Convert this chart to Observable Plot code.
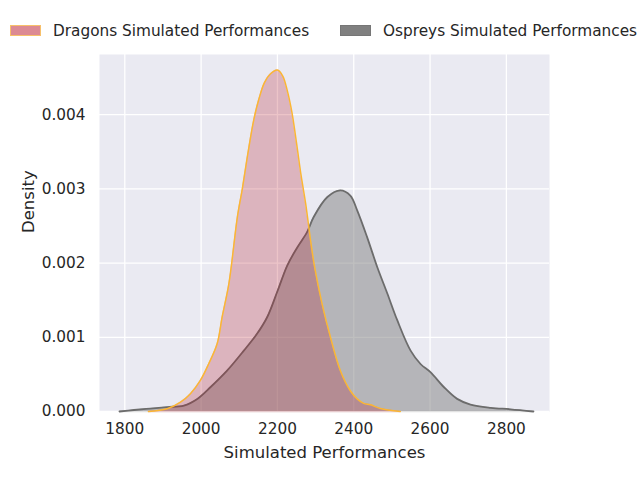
<!DOCTYPE html>
<html>
<head>
<meta charset="utf-8">
<script src="https://cdn.jsdelivr.net/npm/d3@7"></script>
<script src="https://cdn.jsdelivr.net/npm/@observablehq/plot@0.6"></script>
<style>
  html, body { margin: 0; padding: 0; background: #ffffff; }
  body { width: 640px; height: 480px; overflow: hidden; font-family: "DejaVu Sans", sans-serif; }
  #legend { position: relative; height: 50px; font-size: 15.3px; color: #262626; }
  #legend .sw { position: absolute; top: 25px; width: 31px; height: 11px; box-sizing: border-box; }
  #legend .lb { position: absolute; top: 32px; transform: translateY(-50%); white-space: nowrap; line-height: 1.16; }
</style>
</head>
<body>
<div id="legend"></div>
<div id="chart"></div>
<script>
// Series names (legend)
const seriesNames = ["Dragons Simulated Performances", "Ospreys Simulated Performances"];

// Dragons KDE
const dragonsX = [1862, 1911, 1946, 1972, 1998, 2020, 2042, 2055, 2073, 2095, 2108, 2122, 2138, 2152, 2166, 2182, 2200, 2214, 2226, 2238, 2250, 2262, 2274, 2287, 2297, 2317, 2339, 2365, 2391, 2409, 2426, 2444, 2470, 2522];
const dragonsDensity = [0, 0.000036, 0.000125, 0.000239, 0.000418, 0.000643, 0.000912, 0.00127, 0.00173, 0.00262, 0.0030, 0.00346, 0.00393, 0.00422, 0.00443, 0.00455, 0.0046, 0.00452, 0.00432, 0.00403, 0.00362, 0.00318, 0.0028, 0.0023, 0.00196, 0.00145, 0.0010, 0.00055, 0.00028, 0.00017, 0.00011, 0.00009, 0.00004, 0];

// Ospreys KDE
const ospreysX = [1786, 1824, 1867, 1911, 1955, 1990, 2025, 2068, 2112, 2147, 2173, 2200, 2226, 2252, 2278, 2295, 2331, 2365, 2391, 2409, 2435, 2462, 2488, 2514, 2549, 2575, 2601, 2636, 2671, 2706, 2759, 2811, 2871];
const ospreysDensity = [0, 0.00002, 0.00004, 0.00006, 0.00008, 0.00017, 0.00033, 0.00055, 0.00082, 0.00105, 0.00127, 0.00162, 0.00197, 0.00221, 0.00242, 0.00262, 0.00289, 0.00298, 0.00291, 0.00271, 0.00235, 0.00194, 0.00159, 0.00123, 0.00082, 0.00064, 0.00053, 0.00033, 0.00017, 0.000094, 0.00005, 0.00003, 0];

// Tick values
const xTicks = [1800, 2000, 2200, 2400, 2600, 2800];
const yTicks = [0, 0.001, 0.002, 0.003, 0.004];

const xLabel = "Simulated Performances";
const yLabel = "Density";

const dragons = dragonsX.map((x, i) => ({x, y: dragonsDensity[i]}));
const ospreys = ospreysX.map((x, i) => ({x, y: ospreysDensity[i]}));

// Legend
const legendStyles = [
  {left: 10, textLeft: 53, fill: "#dc8a93", edge: "#f7c06a"},
  {left: 340, textLeft: 383, fill: "#808080", edge: "#767676"}
];
const legend = document.getElementById("legend");
seriesNames.forEach((name, i) => {
  const s = legendStyles[i];
  const sw = document.createElement("span");
  sw.className = "sw";
  sw.style.left = s.left + "px";
  sw.style.background = s.fill;
  sw.style.border = "1px solid " + s.edge;
  legend.appendChild(sw);
  const lb = document.createElement("span");
  lb.className = "lb";
  lb.style.left = s.textLeft + "px";
  lb.textContent = name;
  legend.appendChild(lb);
});

const curve = "catmull-rom";
const chart = Plot.plot({
  width: 640,
  height: 430,
  marginTop: 4,
  marginBottom: 69,
  marginLeft: 99,
  marginRight: 91,
  style: {fontFamily: "DejaVu Sans", fontSize: "15.3px", color: "#262626", background: "#ffffff", overflow: "visible"},
  x: {domain: [1733.7, 2913], label: null},
  y: {domain: [0, 0.00481], label: null},
  marks: [
    Plot.frame({fill: "#eaeaf2", stroke: null}),
    Plot.gridX(xTicks, {stroke: "#ffffff", strokeOpacity: 1, strokeWidth: 1.3}),
    Plot.gridY(yTicks, {stroke: "#ffffff", strokeOpacity: 1, strokeWidth: 1.3}),
    Plot.areaY(ospreys, {x: "x", y: "y", fill: "#808080", fillOpacity: 0.5, curve}),
    Plot.ruleY([0], {x1: d3.min(ospreysX), x2: d3.max(ospreysX), stroke: "#8a8a8a", strokeOpacity: 0.25, strokeWidth: 1.5}),
    Plot.lineY(ospreys, {x: "x", y: "y", stroke: "#6c6c6c", strokeWidth: 1.8, curve}),
    Plot.areaY(dragons, {x: "x", y: "y", fill: "#b21222", fillOpacity: 0.25, curve}),
    Plot.ruleY([0], {x1: d3.min(dragonsX), x2: d3.max(dragonsX), stroke: "#f0a0a8", strokeOpacity: 0.35, strokeWidth: 1.5}),
    Plot.lineY(dragons, {x: "x", y: "y", stroke: "#fbb634", strokeWidth: 1.5, curve}),
    Plot.axisX(xTicks, {tickSize: 0, tickPadding: 12, tickFormat: d => String(d), label: null}),
    Plot.axisY(yTicks, {tickSize: 0, tickPadding: 14, tickFormat: d3.format(".3f"), label: null}),
    Plot.text([xLabel], {frameAnchor: "bottom", dy: 41, fontSize: 16.5, lineAnchor: "middle", fill: "#262626"}),
    Plot.text([yLabel], {frameAnchor: "left", dx: -71, rotate: -90, fontSize: 16.5, lineAnchor: "middle", fill: "#262626"})
  ]
});
document.getElementById("chart").appendChild(chart);
</script>
</body>
</html>
